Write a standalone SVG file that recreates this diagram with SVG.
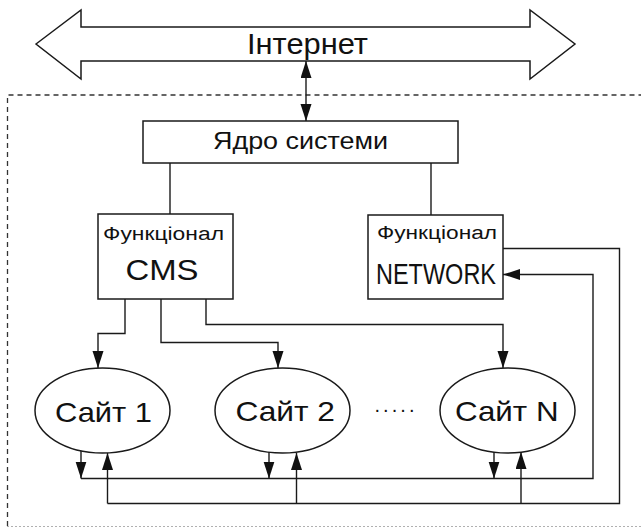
<svg xmlns="http://www.w3.org/2000/svg" width="641" height="528" viewBox="0 0 641 528">
  <style>
    .box { fill: #ffffff; stroke: #1a1a1a; stroke-width: 1.5; }
    .ln { fill: none; stroke: #1a1a1a; stroke-width: 1.4; }
    .arr { fill: none; stroke: #1a1a1a; stroke-width: 1.4; marker-end: url(#head); }
    .bound { fill: none; stroke: #333333; stroke-width: 1.3; stroke-dasharray: 5 4; }
    .txt { font-family: "Liberation Sans", Arial, sans-serif; fill: #111111; }
  </style>
  <defs>
    <marker id="head" markerUnits="userSpaceOnUse" markerWidth="18" markerHeight="12" refX="17" refY="5.5" orient="auto">
      <path d="M0,0 L17,5.5 L0,11 Z" fill="#111111"/>
    </marker>
    <marker id="headStart" markerUnits="userSpaceOnUse" markerWidth="18" markerHeight="12" refX="0" refY="5.5" orient="auto">
      <path d="M17,0 L0,5.5 L17,11 Z" fill="#111111"/>
    </marker>
  </defs>

  <rect width="641" height="528" fill="#ffffff"/>

  <!-- system boundary -->
  <g id="boundary">
    <path class="bound" d="M7.5,526 V95 H641"/>
    <line x1="7" y1="526.5" x2="641" y2="526.5" stroke="#b0b0b0" stroke-width="1.2" stroke-dasharray="2 2"/>
  </g>

  <!-- Internet double arrow -->
  <g id="internet">
    <polygon class="box" points="36,44 81,10 81,27 530,27 530,10 575,44 530,79 530,61 81,61 81,79"/>
    <text class="txt" x="247" y="53.5" font-size="29" textLength="121" lengthAdjust="spacingAndGlyphs">Інтернет</text>
  </g>

  <!-- system core -->
  <g id="core">
    <rect class="box" x="143" y="121" width="315" height="42"/>
    <text class="txt" x="213" y="149" font-size="23" textLength="175" lengthAdjust="spacingAndGlyphs">Ядро системи</text>
  </g>

  <!-- CMS module -->
  <g id="cms">
    <rect class="box" x="98" y="214" width="135" height="85"/>
    <text class="txt" x="103" y="239.5" font-size="18" textLength="121" lengthAdjust="spacingAndGlyphs">Функціонал</text>
    <text class="txt" x="125.5" y="280" font-size="30" textLength="73" lengthAdjust="spacingAndGlyphs">CMS</text>
  </g>

  <!-- NETWORK module -->
  <g id="network">
    <rect class="box" x="368" y="215" width="135" height="84"/>
    <text class="txt" x="377" y="238.5" font-size="18" textLength="120" lengthAdjust="spacingAndGlyphs">Функціонал</text>
    <text class="txt" x="376" y="283.5" font-size="30" textLength="120" lengthAdjust="spacingAndGlyphs">NETWORK</text>
  </g>

  <!-- sites -->
  <g id="site1">
    <ellipse class="box" cx="102.5" cy="410.5" rx="67.5" ry="42.5"/>
    <text class="txt" x="55" y="421.5" font-size="28" textLength="97" lengthAdjust="spacingAndGlyphs">Сайт 1</text>
  </g>
  <g id="site2">
    <ellipse class="box" cx="282.5" cy="410.5" rx="67.5" ry="42.5"/>
    <text class="txt" x="235.5" y="421" font-size="28" textLength="99.5" lengthAdjust="spacingAndGlyphs">Сайт 2</text>
  </g>
  <g id="siteN">
    <ellipse class="box" cx="507.5" cy="410.5" rx="67.5" ry="42.5"/>
    <text class="txt" x="455" y="420.5" font-size="28" textLength="103.5" lengthAdjust="spacingAndGlyphs">Сайт N</text>
  </g>
  <g id="ellipsis">
    <text class="txt" x="374.5" y="412" font-size="20" textLength="40" lengthAdjust="spacing">.....</text>
  </g>

  <!-- connectors -->
  <g id="connectors">
    <!-- Internet <-> core -->
    <line class="arr" x1="306" y1="90" x2="306" y2="121"/>
    <line class="ln" x1="306" y1="90" x2="306" y2="61" marker-end="url(#head)"/>
    <!-- core to modules -->
    <line class="ln" x1="170" y1="163" x2="170" y2="214"/>
    <line class="ln" x1="431" y1="163" x2="431" y2="215"/>
    <!-- CMS to sites -->
    <path class="arr" d="M125,299 V333.5 H98 V368"/>
    <path class="arr" d="M161,299 V342.5 H278 V368"/>
    <path class="arr" d="M206,299 V324.5 H503 V368"/>
    <!-- sites to NETWORK -->
    <line class="arr" x1="81" y1="451" x2="81" y2="478.5"/>
    <line class="arr" x1="269" y1="452" x2="269" y2="478.5"/>
    <line class="arr" x1="494" y1="452" x2="494" y2="478.5"/>
    <path class="arr" d="M81,478.5 H593 V274.5 H503"/>
    <!-- NETWORK to sites -->
    <path class="ln" d="M503,248.5 H619.5 V503.5 H107.5"/>
    <line class="arr" x1="107.5" y1="503.5" x2="107.5" y2="453"/>
    <line class="arr" x1="296.5" y1="503.5" x2="296.5" y2="453"/>
    <line class="arr" x1="521" y1="503.5" x2="521" y2="452"/>
  </g>
</svg>
